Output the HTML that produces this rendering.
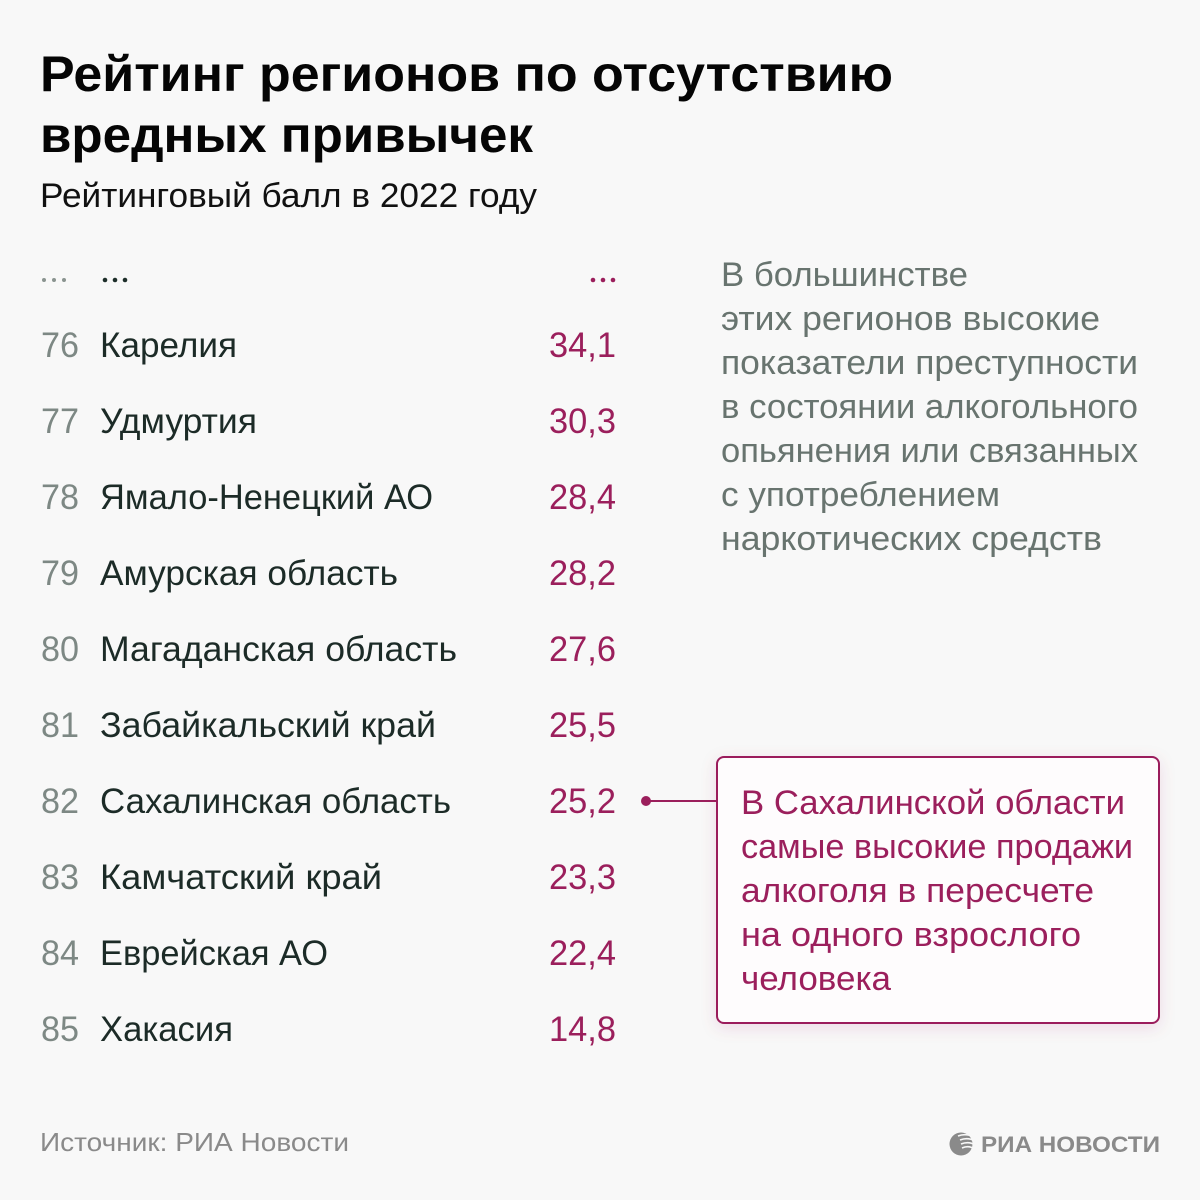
<!DOCTYPE html>
<html>
<head>
<meta charset="utf-8">
<style>
  html,body{margin:0;padding:0;background:#f8f8f8;}
  svg{display:block;}
  text{font-family:"Liberation Sans","DejaVu Sans",sans-serif;}
</style>
</head>
<body>
<svg width="1200" height="1200" viewBox="0 0 1200 1200" xmlns="http://www.w3.org/2000/svg">
  <defs>
    <filter id="sh" x="-10%" y="-10%" width="120%" height="130%">
      <feDropShadow dx="0" dy="4" stdDeviation="8" flood-color="#9b1f5c" flood-opacity="0.12"/>
    </filter>
  </defs>
  <rect width="1200" height="1200" fill="#f8f8f8"/>

  <!-- Title -->
  <text x="40" y="91" font-size="50" font-weight="bold" fill="#050505" textLength="853" lengthAdjust="spacingAndGlyphs">Рейтинг регионов по отсутствию</text>
  <text x="40" y="152" font-size="50" font-weight="bold" fill="#050505" textLength="493" lengthAdjust="spacingAndGlyphs">вредных привычек</text>
  <text x="40" y="207" font-size="34" fill="#111" textLength="497" lengthAdjust="spacingAndGlyphs">Рейтинговый балл в 2022 году</text>

  <!-- ellipsis row -->
  <g fill="#8a9490">
    <circle cx="44" cy="280" r="2"/><circle cx="54" cy="280" r="2"/><circle cx="64" cy="280" r="2"/>
  </g>
  <g fill="#1e2f2a">
    <circle cx="105" cy="280" r="2.3"/><circle cx="115" cy="280" r="2.3"/><circle cx="125" cy="280" r="2.3"/>
  </g>
  <g fill="#9b1f5c">
    <circle cx="593" cy="280" r="2.3"/><circle cx="603" cy="280" r="2.3"/><circle cx="613" cy="280" r="2.3"/>
  </g>

  <!-- Rows -->
  <g font-size="35">
    <g fill="#7d8884">
      <text x="41" y="357" textLength="38" lengthAdjust="spacingAndGlyphs">76</text>
      <text x="41" y="433" textLength="38" lengthAdjust="spacingAndGlyphs">77</text>
      <text x="41" y="509" textLength="38" lengthAdjust="spacingAndGlyphs">78</text>
      <text x="41" y="585" textLength="38" lengthAdjust="spacingAndGlyphs">79</text>
      <text x="41" y="661" textLength="38" lengthAdjust="spacingAndGlyphs">80</text>
      <text x="41" y="737" textLength="38" lengthAdjust="spacingAndGlyphs">81</text>
      <text x="41" y="813" textLength="38" lengthAdjust="spacingAndGlyphs">82</text>
      <text x="41" y="889" textLength="38" lengthAdjust="spacingAndGlyphs">83</text>
      <text x="41" y="965" textLength="38" lengthAdjust="spacingAndGlyphs">84</text>
      <text x="41" y="1041" textLength="38" lengthAdjust="spacingAndGlyphs">85</text>
    </g>
    <g fill="#1c2b27">
      <text x="100" y="357" textLength="137" lengthAdjust="spacingAndGlyphs">Карелия</text>
      <text x="100" y="433" textLength="157" lengthAdjust="spacingAndGlyphs">Удмуртия</text>
      <text x="100" y="509" textLength="333" lengthAdjust="spacingAndGlyphs">Ямало-Ненецкий АО</text>
      <text x="100" y="585" textLength="298" lengthAdjust="spacingAndGlyphs">Амурская область</text>
      <text x="100" y="661" textLength="357" lengthAdjust="spacingAndGlyphs">Магаданская область</text>
      <text x="100" y="737" textLength="336" lengthAdjust="spacingAndGlyphs">Забайкальский край</text>
      <text x="100" y="813" textLength="351" lengthAdjust="spacingAndGlyphs">Сахалинская область</text>
      <text x="100" y="889" textLength="282" lengthAdjust="spacingAndGlyphs">Камчатский край</text>
      <text x="100" y="965" textLength="228" lengthAdjust="spacingAndGlyphs">Еврейская АО</text>
      <text x="100" y="1041" textLength="133" lengthAdjust="spacingAndGlyphs">Хакасия</text>
    </g>
    <g fill="#9b1f5c">
      <text x="549" y="357" textLength="67" lengthAdjust="spacingAndGlyphs">34,1</text>
      <text x="549" y="433" textLength="67" lengthAdjust="spacingAndGlyphs">30,3</text>
      <text x="549" y="509" textLength="67" lengthAdjust="spacingAndGlyphs">28,4</text>
      <text x="549" y="585" textLength="67" lengthAdjust="spacingAndGlyphs">28,2</text>
      <text x="549" y="661" textLength="67" lengthAdjust="spacingAndGlyphs">27,6</text>
      <text x="549" y="737" textLength="67" lengthAdjust="spacingAndGlyphs">25,5</text>
      <text x="549" y="813" textLength="67" lengthAdjust="spacingAndGlyphs">25,2</text>
      <text x="549" y="889" textLength="67" lengthAdjust="spacingAndGlyphs">23,3</text>
      <text x="549" y="965" textLength="67" lengthAdjust="spacingAndGlyphs">22,4</text>
      <text x="549" y="1041" textLength="67" lengthAdjust="spacingAndGlyphs">14,8</text>
    </g>
  </g>

  <!-- Right explanatory text -->
  <g font-size="34" fill="#68746f">
    <text x="721" y="286" textLength="247" lengthAdjust="spacingAndGlyphs">В большинстве</text>
    <text x="721" y="330" textLength="379" lengthAdjust="spacingAndGlyphs">этих регионов высокие</text>
    <text x="721" y="374" textLength="417" lengthAdjust="spacingAndGlyphs">показатели преступности</text>
    <text x="721" y="418" textLength="417" lengthAdjust="spacingAndGlyphs">в состоянии алкогольного</text>
    <text x="721" y="462" textLength="417" lengthAdjust="spacingAndGlyphs">опьянения или связанных</text>
    <text x="721" y="506" textLength="279" lengthAdjust="spacingAndGlyphs">с употреблением</text>
    <text x="721" y="550" textLength="381" lengthAdjust="spacingAndGlyphs">наркотических средств</text>
  </g>

  <!-- Connector -->
  <line x1="646" y1="801" x2="717" y2="801" stroke="#9b1f5c" stroke-width="2"/>
  <circle cx="646" cy="801" r="5" fill="#9b1f5c"/>

  <!-- Callout box -->
  <rect x="717" y="757" width="442" height="266" rx="7" ry="7" fill="#fefcfd" stroke="#9b1f5c" stroke-width="2" filter="url(#sh)"/>
  <g font-size="34" fill="#9b1f5c">
    <text x="741" y="814" textLength="384" lengthAdjust="spacingAndGlyphs">В Сахалинской области</text>
    <text x="741" y="858" textLength="392" lengthAdjust="spacingAndGlyphs">самые высокие продажи</text>
    <text x="741" y="902" textLength="353" lengthAdjust="spacingAndGlyphs">алкоголя в пересчете</text>
    <text x="741" y="946" textLength="340" lengthAdjust="spacingAndGlyphs">на одного взрослого</text>
    <text x="741" y="990" textLength="150" lengthAdjust="spacingAndGlyphs">человека</text>
  </g>

  <!-- Footer -->
  <text x="40" y="1151" font-size="26" fill="#8a8a8a" textLength="309" lengthAdjust="spacingAndGlyphs">Источник: РИА Новости</text>

  <!-- Logo -->
  <g fill="#8a8a8a">
    <circle cx="961" cy="1144" r="11.5"/>
    <g stroke="#f8f8f8" stroke-width="1.6" fill="none">
      <path d="M958 1136 q8 -3 16 1"/>
      <path d="M960 1140 q8 -3 15 1"/>
      <path d="M961 1144 q8 -3 14 1"/>
      <path d="M962 1148 q7 -3 12 1"/>
    </g>
  </g>
  <text x="981" y="1152" font-size="22" font-weight="bold" fill="#8a8a8a" textLength="179" lengthAdjust="spacingAndGlyphs">РИА НОВОСТИ</text>
</svg>
</body>
</html>
